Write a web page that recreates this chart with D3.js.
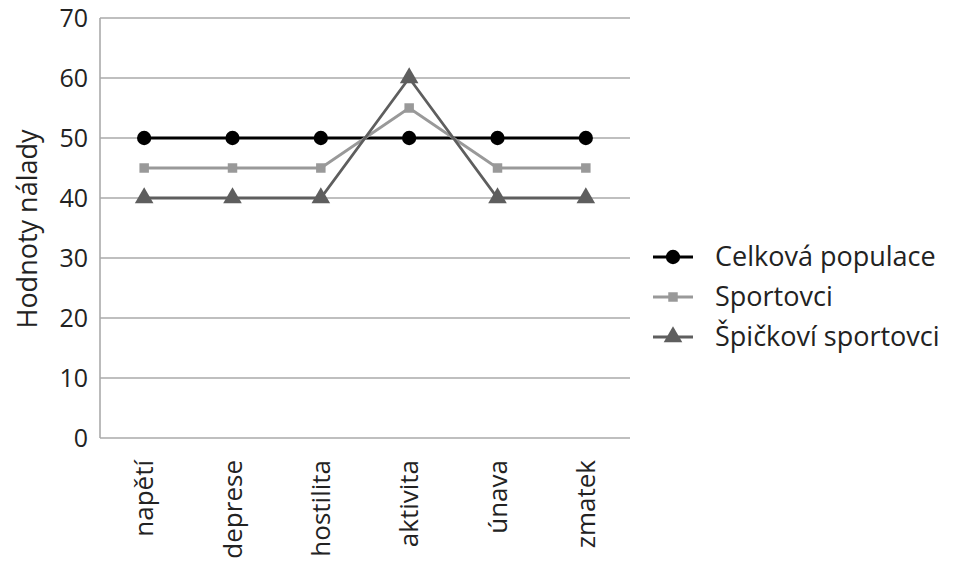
<!DOCTYPE html>
<html><head><meta charset="utf-8">
<script src="https://cdn.jsdelivr.net/npm/d3@7"></script>
<style>body{margin:0;background:#fff}svg{display:block}text{font-family:"Open Sans","Noto Sans",sans-serif}</style>
</head><body><svg id="c" width="953" height="565"></svg>
<script>
const categories = ["napětí","deprese","hostilita","aktivita","únava","zmatek"];
const celkova = [50,50,50,50,50,50];
const sportovci = [45,45,45,55,45,45];
const spickovi = [40,40,40,60,40,40];
const yTicks = [0,10,20,30,40,50,60,70];
const seriesNames = ["Celková populace","Sportovci","Špičkoví sportovci"];

(function(){
const series = [
  {name: seriesNames[0], values: celkova, color:"#000", sym: d3.symbolCircle, size: 160},
  {name: seriesNames[1], values: sportovci, color:"#999", sym: d3.symbolSquare, size: 90},
  {name: seriesNames[2], values: spickovi, color:"#5e5e5e", sym: d3.symbolTriangle, size: 150}
];

const svg = d3.select("#c");
const pL=100, pR=630, pT=18, pB=438;
const x = d3.scaleBand().domain(categories).range([pL,pR]);
const y = d3.scaleLinear().domain([0,70]).range([pB,pT]);

svg.append("g").selectAll("line").data(yTicks).join("line")
  .attr("x1",pL).attr("x2",pR).attr("y1",d=>y(d)).attr("y2",d=>y(d))
  .attr("stroke","#aaa").attr("stroke-width",1.6);
svg.append("line").attr("x1",pL).attr("x2",pL).attr("y1",pT).attr("y2",pB)
  .attr("stroke","#aaa").attr("stroke-width",1.6);

const ya = svg.append("g").attr("transform",`translate(${pL},0)`).call(d3.axisLeft(y).tickValues(yTicks).tickSize(0).tickPadding(12));
ya.select(".domain").remove();
ya.selectAll("text").attr("font-size",25).attr("fill","#222").attr("font-family","Open Sans, Noto Sans, sans-serif");

const xa = svg.append("g").attr("transform",`translate(0,${pB})`).call(d3.axisBottom(x).tickSize(0));
xa.select(".domain").remove();
xa.selectAll("text").attr("font-size",26).attr("fill","#222").attr("font-family","Open Sans, Noto Sans, sans-serif")
  .attr("text-anchor","end").attr("dy","0.35em").attr("y",0).attr("x",0)
  .attr("transform","translate(0,22) rotate(-90)");

svg.append("text").attr("transform",`translate(28,229) rotate(-90)`)
  .attr("text-anchor","middle").attr("dy","0.35em").attr("font-size",27).attr("fill","#222").text("Hodnoty nálady");

const line = d3.line().x((d,i)=>x(categories[i])+x.bandwidth()/2).y(d=>y(d));
series.forEach(s=>{
  svg.append("path").attr("d",line(s.values)).attr("fill","none").attr("stroke",s.color).attr("stroke-width",2.8);
  svg.append("g").selectAll("path").data(s.values).join("path")
    .attr("d",d3.symbol().type(s.sym).size(s.size))
    .attr("transform",(d,i)=>`translate(${x(categories[i])+x.bandwidth()/2},${y(d)})`)
    .attr("fill",s.color);
});

const lg = svg.append("g").attr("transform","translate(653,257)");
series.forEach((s,i)=>{
  const g = lg.append("g").attr("transform",`translate(0,${i*40})`);
  g.append("line").attr("x1",0).attr("x2",40).attr("stroke",s.color).attr("stroke-width",2.8);
  g.append("path").attr("d",d3.symbol().type(s.sym).size(s.size)).attr("transform","translate(20,0)").attr("fill",s.color);
  g.append("text").attr("x",62).attr("dy","0.35em").attr("font-size",27).attr("fill","#222").text(s.name);
});
})();
</script></body></html>
